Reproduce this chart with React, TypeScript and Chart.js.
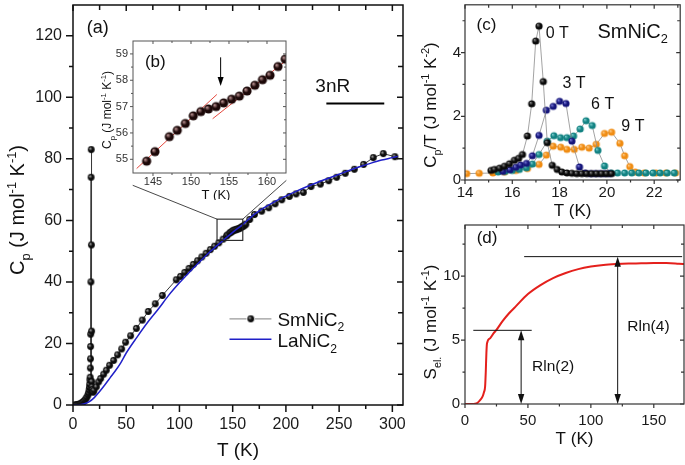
import React, { useEffect, useRef } from 'react';
import { Chart, registerables } from 'chart.js';

Chart.register(...registerables);

const FONT = '"Liberation Sans", Arial, Helvetica, sans-serif';
const INK = '#111111';

// ---------------- (a) main panel: Cp(T) ----------------
const smT = [2, 3, 4, 5, 6, 7, 8, 9, 10, 11, 12, 13, 14, 14.6, 15.1, 15.46, 15.67, 15.88, 16.09, 16.27, 16.43, 16.55, 16.6, 16.8, 16.99, 17.13, 17.31, 17.48, 17.69, 17.9, 18.1, 18.5, 19.0, 19.7, 21.9, 24.1, 26.0, 28.8, 31.3, 34.4, 38.2, 41.9, 45.7, 49.4, 54.1, 59.5, 65.1, 70.7, 77.3, 83.9, 97.0, 101, 105, 109, 113, 117, 121, 125, 129, 133, 137, 141, 144.17, 145.26, 147.15, 148.2, 149.26, 150.3, 151.3, 152.3, 153.3, 154.3, 155.35, 156.36, 157.37, 158.4, 159.4, 160.4, 161.45, 162.4, 166, 170.5, 177.3, 183.9, 189.9, 196.1, 203.3, 209.6, 216.4, 223.6, 232.4, 240.2, 247.7, 255.8, 264.3, 273.0, 282.1, 291.5, 302.4];
const smCp = [0.02, 0.05, 0.1, 0.17, 0.27, 0.4, 0.6, 0.85, 1.15, 1.5, 1.95, 2.5, 3.2, 3.9, 4.8, 5.7, 6.7, 8.1, 9.0, 12, 15, 19, 23, 40, 74, 83, 52, 24, 7.6, 5.9, 5.0, 4.3, 4.2, 4.8, 5.9, 7.5, 8.6, 10.0, 11.3, 12.9, 14.5, 16.3, 18.2, 20.4, 22.5, 24.9, 27.6, 30.4, 32.9, 35.6, 40.7, 41.8, 43.1, 44.4, 45.7, 46.9, 48.1, 49.3, 50.5, 51.6, 52.7, 53.9, 54.93, 55.29, 55.86, 56.1, 56.36, 56.65, 56.81, 56.91, 57.0, 57.14, 57.28, 57.4, 57.59, 57.81, 58.02, 58.19, 58.52, 58.8, 60.3, 61.9, 63.0, 64.1, 65.4, 66.7, 67.8, 68.6, 69.1, 71.0, 71.8, 72.9, 74.0, 75.3, 76.6, 78.2, 80.4, 81.7, 80.7];
const laT = [0, 5, 10, 15, 20, 25, 30, 35, 40, 45, 50, 60, 70, 80, 90, 100, 110, 120, 130, 140, 150, 160, 170, 180, 190, 200, 210, 220, 230, 240, 250, 260, 270, 280, 290, 300, 305];
const laCp = [0, 0.03, 0.3, 1.0, 2.4, 4.4, 6.6, 8.9, 11.2, 13.8, 16.9, 22.0, 26.8, 31.1, 35.7, 39.7, 43.4, 46.9, 50.2, 53.2, 56.1, 58.8, 61.9, 64.2, 66.2, 67.9, 69.5, 71.0, 72.4, 73.7, 75.0, 76.3, 77.5, 78.6, 79.6, 80.4, 80.8];
const aXTicks = [0, 50, 100, 150, 200, 250, 300];
const aXMinor = [25, 75, 125, 175, 225, 275];
const aYTicks = [0, 20, 40, 60, 80, 100, 120];
const aYMinor = [10, 30, 50, 70, 90, 110];
const nrLineT = [238, 292.4];
const NR_CP = 98;
const zoomBoxT = [135.3, 159.5];
const zoomBoxCp = [53.5, 60.4];

// ---------------- (b) inset ----------------
const bT = [144.17, 145.26, 147.15, 148.2, 149.26, 150.3, 151.3, 152.3, 153.3, 154.3, 155.35, 156.36, 157.37, 158.4, 159.4, 160.4, 161.45, 162.4];
const bCp = [54.93, 55.29, 55.86, 56.1, 56.36, 56.65, 56.81, 56.91, 57.0, 57.14, 57.28, 57.4, 57.59, 57.81, 58.02, 58.19, 58.52, 58.8];
const fitAT = [142.85, 153.4];
const fitACp = [54.65, 57.46];
const fitBT = [152.85, 163.4];
const fitBCp = [56.54, 58.95];
const bXTicks = [145, 150, 155, 160];
const bXMinor = [147.5, 152.5, 157.5];
const bYTicks = [55, 56, 57, 58, 59];
const bYMinor = [55.5, 56.5, 57.5, 58.5];
const arrowBT = 153.9;
const arrowBCp = [58.87, 57.78];

// ---------------- (c) Cp/T in fields ----------------
const c0T = [15.1, 15.25, 15.46, 15.67, 15.88, 16.09, 16.27, 16.43, 16.64, 16.82, 16.99, 17.13, 17.31, 17.48, 17.69, 17.9, 18.1, 18.31, 18.52, 18.73, 18.94, 19.15, 19.36, 19.57, 19.78, 19.99, 20.2];
const c0 = [0.3, 0.33, 0.37, 0.43, 0.51, 0.62, 0.68, 0.8, 1.38, 2.39, 4.36, 4.83, 3.09, 1.17, 0.46, 0.33, 0.25, 0.22, 0.21, 0.2, 0.2, 0.2, 0.2, 0.2, 0.2, 0.2, 0.2];
const c3T = [15.6, 15.9, 16.15, 16.35, 16.6, 16.85, 17.13, 17.44, 17.73, 18.0, 18.27, 18.52, 18.84, 19.08, 19.3, 19.5, 19.7, 19.9, 20.1];
const c3 = [0.27, 0.32, 0.4, 0.47, 0.52, 0.76, 1.4, 2.19, 2.31, 2.47, 2.4, 1.22, 0.41, 0.22, 0.2, 0.2, 0.2, 0.2, 0.2];
const c6T = [15.4, 15.7, 16.0, 16.3, 16.6, 16.85, 17.13, 17.48, 17.76, 18.04, 18.31, 18.59, 18.87, 19.12, 19.38, 19.62, 19.9, 20.18, 20.45, 20.75, 21.05, 21.35, 21.65, 21.95, 22.25, 22.55, 22.85];
const c6 = [0.25, 0.27, 0.3, 0.33, 0.38, 0.5, 0.8, 1.22, 1.39, 1.33, 1.33, 1.38, 1.6, 1.86, 1.71, 0.93, 0.44, 0.22, 0.22, 0.22, 0.22, 0.22, 0.22, 0.22, 0.22, 0.22, 0.22];
const c9T = [14.07, 14.6, 15.18, 15.67, 16.15, 16.64, 17.13, 17.44, 17.73, 18.05, 18.31, 18.62, 18.94, 19.25, 19.55, 19.9, 20.2, 20.55, 20.75, 20.97, 21.2, 21.58, 22.07, 22.49, 22.9];
const c9 = [0.2, 0.21, 0.22, 0.25, 0.3, 0.36, 0.49, 0.78, 1.06, 1.03, 0.96, 0.96, 1.03, 1.0, 1.12, 1.46, 1.5, 1.15, 0.76, 0.42, 0.25, 0.22, 0.22, 0.22, 0.22];
const cXTicks = [14, 16, 18, 20, 22];
const cXMinor = [15, 17, 19, 21, 23];
const cYTicks = [0, 2, 4];
const cYMinor = [1, 3, 5];

// ---------------- (d) electronic entropy ----------------
const dT = [0, 5, 8, 10, 12, 14, 15, 16, 16.5, 17, 17.5, 20, 22.5, 25, 30, 35, 40, 50, 60, 70, 80, 90, 100, 110, 120, 130, 140, 150, 160, 170, 175];
const dS = [0, 0, 0.02, 0.1, 0.3, 0.6, 0.9, 1.4, 2.5, 4.0, 4.75, 5.15, 5.5, 5.8, 6.5, 7.1, 7.6, 8.6, 9.3, 9.85, 10.25, 10.55, 10.75, 10.88, 10.95, 10.99, 11.0, 11.02, 11.02, 10.97, 10.94];
const dXTicks = [0, 50, 100, 150];
const dXMinor = [25, 75, 125];
const dYTicks = [0, 5, 10];
const dYMinor = [2.5, 7.5, 12.5];
const RLN2 = 8.314 * Math.log(2);
const RLN4 = 8.314 * Math.log(4);
const rln2LineT = [6.6, 53];
const rln4LineT = [47, 172.5];
const rln2ArrowT = 44.6;
const rln4ArrowT = 121.3;

// ---------------- helpers ----------------
type Seg = [string, number]; // 0 normal, 1 subscript, 2 superscript

function drawRich(ctx: CanvasRenderingContext2D, segs: Seg[], x: number, y: number, size: number, align: 'center' | 'left' = 'center', rotate = false, color = INK) {
  ctx.save();
  ctx.translate(x, y);
  if (rotate) ctx.rotate(-Math.PI / 2);
  const fs = (m: number) => (m ? size * 0.64 : size);
  let w = 0;
  for (const [t, m] of segs) {
    ctx.font = `${fs(m)}px ${FONT}`;
    w += ctx.measureText(t).width;
  }
  let cx = align === 'center' ? -w / 2 : 0;
  const base = size * 0.358;
  ctx.fillStyle = color;
  ctx.textAlign = 'left';
  ctx.textBaseline = 'alphabetic';
  for (const [t, m] of segs) {
    ctx.font = `${fs(m)}px ${FONT}`;
    const dy = m === 1 ? size * 0.27 : m === 2 ? -size * 0.4 : 0;
    ctx.fillText(t, cx, base + dy);
    cx += ctx.measureText(t).width;
  }
  ctx.restore();
}

type FrameSpec = { xMaj: number[]; xMin: number[]; yMaj: number[]; yMin: number[]; oMaj: number; oMin: number; iMaj: number; iMin: number; lw: number; color: string };

function drawFrame(chart: any, f: FrameSpec) {
  const { ctx, chartArea: a } = chart;
  const sx = chart.scales.x;
  const sy = chart.scales.y;
  ctx.save();
  ctx.strokeStyle = f.color;
  ctx.lineWidth = f.lw;
  ctx.beginPath();
  const vx = (v: number, o: number, i: number) => {
    const p = sx.getPixelForValue(v);
    ctx.moveTo(p, a.bottom); ctx.lineTo(p, a.bottom + o);
    ctx.moveTo(p, a.top); ctx.lineTo(p, a.top + i);
  };
  const vy = (v: number, o: number, i: number) => {
    const p = sy.getPixelForValue(v);
    ctx.moveTo(a.left, p); ctx.lineTo(a.left - o, p);
    ctx.moveTo(a.right, p); ctx.lineTo(a.right - i, p);
  };
  f.xMaj.forEach((v) => vx(v, f.oMaj, f.iMaj));
  f.xMin.forEach((v) => vx(v, f.oMin, f.iMin));
  f.yMaj.forEach((v) => vy(v, f.oMaj, f.iMaj));
  f.yMin.forEach((v) => vy(v, f.oMin, f.iMin));
  ctx.stroke();
  ctx.strokeRect(a.left, a.top, a.right - a.left, a.bottom - a.top);
  ctx.restore();
}

function linAxis(min: number, max: number, majors: number[], fixed: number, horizontal: boolean, size: number, pad: number, color = '#1a1a1a') {
  return {
    type: 'linear',
    min,
    max,
    position: horizontal ? 'bottom' : 'left',
    grid: { display: false, drawTicks: false },
    border: { display: false },
    title: { display: false },
    ticks: { font: { family: FONT, size }, color, padding: pad, autoSkip: false, maxRotation: 0, minRotation: 0, callback: (v: number) => String(v) },
    afterBuildTicks: (s: any) => { s.ticks = majors.map((v) => ({ value: v })); },
    afterFit: (s: any) => {
      if (horizontal) s.height = fixed; else s.width = fixed;
      s.paddingTop = 0; s.paddingBottom = 0; s.paddingLeft = 0; s.paddingRight = 0;
    },
  };
}

function makeBall(r: number, base: string, hi: string) {
  const c = document.createElement('canvas');
  const s = Math.ceil(r * 2 + 2);
  c.width = s; c.height = s;
  const g = c.getContext('2d')!;
  const cx = s / 2, cy = s / 2;
  const grad = g.createRadialGradient(cx - r * 0.4, cy - r * 0.4, 0, cx, cy, r);
  grad.addColorStop(0, hi);
  grad.addColorStop(0.55, base);
  grad.addColorStop(1, base);
  g.fillStyle = grad;
  g.beginPath(); g.arc(cx, cy, r, 0, Math.PI * 2); g.fill();
  return c;
}

function arrowHead(ctx: CanvasRenderingContext2D, x: number, y: number, dir: number, len: number, hw: number) {
  ctx.beginPath();
  ctx.moveTo(x, y);
  ctx.lineTo(x - hw, y - dir * len);
  ctx.lineTo(x + hw, y - dir * len);
  ctx.closePath();
  ctx.fill();
}

const pts = (xs: number[], ys: number[]) => xs.map((x, i) => ({ x, y: ys[i] }));

const baseOpts = (padding: any, x: any, y: any) => ({
  responsive: false,
  maintainAspectRatio: false,
  animation: false,
  devicePixelRatio: 1,
  events: [],
  layout: { padding },
  plugins: { legend: { display: false }, tooltip: { enabled: false } },
  scales: { x, y },
});

const segCp: Seg[] = [['C', 0], ['p', 1], [' (J mol', 0], ['-1', 2], [' K', 0], ['-1', 2], [')', 0]];

export default function App() {
  const ra = useRef<HTMLCanvasElement>(null);
  const rb = useRef<HTMLCanvasElement>(null);
  const rc = useRef<HTMLCanvasElement>(null);
  const rd = useRef<HTMLCanvasElement>(null);

  useEffect(() => {
    document.body.style.margin = '0';
    const ballK = makeBall(3.4, '#0c0c0c', '#b8b8b8');
    const ballB = makeBall(4.6, '#1c0808', '#d4a8a8');
    const cBalls = [
      makeBall(3.6, '#0a0a0a', '#9a9a9a'),
      makeBall(3.6, '#15157a', '#8a8ae8'),
      makeBall(3.6, '#128282', '#8ad8d8'),
      makeBall(3.6, '#f08c12', '#ffd49a'),
    ];

    // ----- (a) -----
    const frameA: FrameSpec = { xMaj: aXTicks, xMin: aXMinor, yMaj: aYTicks, yMin: aYMinor, oMaj: 7, oMin: 4, iMaj: 6, iMin: 5, lw: 1.5, color: '#111' };
    const plugA = {
      id: 'plugA',
      afterDatasetsDraw(chart: any) {
        drawFrame(chart, frameA);
        const ctx: CanvasRenderingContext2D = chart.ctx;
        const X = chart.scales.x, Y = chart.scales.y;
        const px = (v: number) => X.getPixelForValue(v);
        const py = (v: number) => Y.getPixelForValue(v);
        const a = chart.chartArea;
        ctx.save();
        // zoom box + connectors
        ctx.strokeStyle = '#222'; ctx.lineWidth = 1.1;
        ctx.strokeRect(px(zoomBoxT[0]), py(zoomBoxCp[1]), px(zoomBoxT[1]) - px(zoomBoxT[0]), py(zoomBoxCp[0]) - py(zoomBoxCp[1]));
        ctx.lineWidth = 0.9; ctx.strokeStyle = '#333';
        ctx.beginPath();
        ctx.moveTo(px(zoomBoxT[0]), py(zoomBoxCp[1])); ctx.lineTo(px(56.1), py(71.4));
        ctx.moveTo(px(zoomBoxT[1]), py(zoomBoxCp[1])); ctx.lineTo(px(200.4), py(73));
        ctx.stroke();
        // 3nR
        ctx.strokeStyle = '#000'; ctx.lineWidth = 2;
        ctx.beginPath(); ctx.moveTo(px(nrLineT[0]), py(NR_CP)); ctx.lineTo(px(nrLineT[1]), py(NR_CP)); ctx.stroke();
        drawRich(ctx, [['3nR', 0]], px(244), py(103.9), 19);
        drawRich(ctx, [['(a)', 0]], px(23.2), py(122.9), 18);
        // legend
        const ly1 = py(28), ly2 = py(21.4);
        ctx.strokeStyle = '#9a9a9a'; ctx.lineWidth = 1.3;
        ctx.beginPath();
        ctx.moveTo(px(147), ly1); ctx.lineTo(px(163), ly1);
        ctx.moveTo(px(171), ly1); ctx.lineTo(px(186.4), ly1);
        ctx.stroke();
        ctx.drawImage(ballK, px(167) - ballK.width / 2, ly1 - ballK.height / 2);
        ctx.strokeStyle = '#2020c8'; ctx.lineWidth = 1.5;
        ctx.beginPath(); ctx.moveTo(px(147), ly2); ctx.lineTo(px(186.4), ly2); ctx.stroke();
        drawRich(ctx, [['SmNiC', 0], ['2', 1]], px(192), ly1, 19, 'left');
        drawRich(ctx, [['LaNiC', 0], ['2', 1]], px(192), py(20.9), 19, 'left');
        // axis titles
        drawRich(ctx, [['T (K)', 0]], (a.left + a.right) / 2, 449, 19);
        drawRich(ctx, segCp, 17, 210, 20, 'center', true);
        ctx.restore();
      },
    };
    const chA = new Chart(ra.current!, {
      type: 'line',
      data: {
        datasets: [
          { data: pts(laT, laCp), borderColor: '#2020c8', borderWidth: 1.5, pointRadius: 0, cubicInterpolationMode: 'monotone' },
          { data: pts(smT, smCp), borderColor: '#3a3a3a', borderWidth: 1, pointStyle: ballK, pointRadius: 3.4, tension: 0 },
        ],
      },
      options: baseOpts({ left: 0, top: 1, right: 7, bottom: 0 }, linAxis(0, 310, aXTicks, 60, true, 16, 10), linAxis(0, 130, aYTicks, 73, false, 16, 11)) as any,
      plugins: [plugA],
    } as any);

    // ----- (b) inset -----
    const frameB: FrameSpec = { xMaj: bXTicks, xMin: bXMinor, yMaj: bYTicks, yMin: bYMinor, oMaj: 3, oMin: 2, iMaj: 3, iMin: 2, lw: 1, color: '#555' };
    const plugB = {
      id: 'plugB',
      beforeDatasetsDraw(chart: any) {
        const a = chart.chartArea;
        chart.ctx.save();
        chart.ctx.fillStyle = '#fff';
        chart.ctx.fillRect(a.left, a.top, a.right - a.left, a.bottom - a.top);
        chart.ctx.restore();
      },
      afterDatasetsDraw(chart: any) {
        drawFrame(chart, frameB);
        const ctx: CanvasRenderingContext2D = chart.ctx;
        const X = chart.scales.x, Y = chart.scales.y;
        ctx.save();
        const ax = X.getPixelForValue(arrowBT);
        const y0 = Y.getPixelForValue(arrowBCp[0]);
        const y1 = Y.getPixelForValue(arrowBCp[1]);
        ctx.strokeStyle = '#000'; ctx.fillStyle = '#000'; ctx.lineWidth = 1;
        ctx.beginPath(); ctx.moveTo(ax, y0); ctx.lineTo(ax, y1 - 6); ctx.stroke();
        arrowHead(ctx, ax, y1, 1, 9, 3);
        drawRich(ctx, [['(b)', 0]], X.getPixelForValue(145.3), Y.getPixelForValue(58.73), 17);
        drawRich(ctx, [['T (K)', 0]], 121, 164, 13);
        drawRich(ctx, segCp, 12, 80, 12, 'center', true);
        ctx.restore();
      },
    };
    const chB = new Chart(rb.current!, {
      type: 'line',
      data: {
        datasets: [
          { data: pts(bT, bCp), showLine: false, pointStyle: ballB, pointRadius: 4.6 },
          { data: pts(fitAT, fitACp), borderColor: '#e5483e', borderWidth: 1, pointRadius: 0 },
          { data: pts(fitBT, fitBCp), borderColor: '#e5483e', borderWidth: 1, pointRadius: 0 },
        ],
      },
      options: baseOpts({ left: 0, top: 11, right: 9, bottom: 0 }, linAxis(142.37, 162.5, bXTicks, 27, true, 11, 2, '#333'), linAxis(54.48, 59.49, bYTicks, 38, false, 11, 5, '#333')) as any,
      plugins: [plugB],
    } as any);

    // ----- (c) -----
    const frameC: FrameSpec = { xMaj: cXTicks, xMin: cXMinor, yMaj: cYTicks, yMin: cYMinor, oMaj: 4, oMin: 2.5, iMaj: 4, iMin: 3, lw: 1.2, color: '#333' };
    const plugC = {
      id: 'plugC',
      afterDatasetsDraw(chart: any) {
        drawFrame(chart, frameC);
        const ctx: CanvasRenderingContext2D = chart.ctx;
        const X = chart.scales.x, Y = chart.scales.y;
        const a = chart.chartArea;
        const P = (t: number, v: number): [number, number] => [X.getPixelForValue(t), Y.getPixelForValue(v)];
        ctx.save();
        let p = P(14.91, 4.89); drawRich(ctx, [['(c)', 0]], p[0], p[1], 17);
        p = P(17.9, 4.65); drawRich(ctx, [['0 T', 0]], p[0], p[1], 16);
        p = P(18.61, 3.08); drawRich(ctx, [['3 T', 0]], p[0], p[1], 16);
        p = P(19.82, 2.4); drawRich(ctx, [['6 T', 0]], p[0], p[1], 16);
        p = P(21.1, 1.72); drawRich(ctx, [['9 T', 0]], p[0], p[1], 16);
        p = P(19.6, 4.68); drawRich(ctx, [['SmNiC', 0], ['2', 1]], p[0], p[1], 20, 'left');
        drawRich(ctx, [['T (K)', 0]], (a.left + a.right) / 2, 210, 17);
        drawRich(ctx, [['C', 0], ['p', 1], ['/T (J mol', 0], ['-1', 2], [' K', 0], ['-2', 2], [')', 0]], 20, 105, 17, 'center', true);
        ctx.restore();
      },
    };
    const lineC = { borderColor: '#8c8c8c', borderWidth: 0.8, tension: 0 };
    const chC = new Chart(rc.current!, {
      type: 'line',
      data: {
        datasets: [
          { ...lineC, data: pts(c0T, c0), pointStyle: cBalls[0], pointRadius: 3.6 },
          { ...lineC, data: pts(c3T, c3), pointStyle: cBalls[1], pointRadius: 3.6 },
          { ...lineC, data: pts(c6T, c6), pointStyle: cBalls[2], pointRadius: 3.6 },
          { ...lineC, data: pts(c9T, c9), pointStyle: cBalls[3], pointRadius: 3.6 },
        ],
      },
      options: baseOpts({ left: 0, top: 1, right: 1, bottom: 0 }, linAxis(14, 23.1, cXTicks, 42, true, 15, 4), linAxis(0, 5.5, cYTicks, 55, false, 15, 4)) as any,
      plugins: [plugC],
    } as any);

    // ----- (d) -----
    const frameD: FrameSpec = { xMaj: dXTicks, xMin: dXMinor, yMaj: dYTicks, yMin: dYMinor, oMaj: 4, oMin: 2.5, iMaj: 4, iMin: 3, lw: 1.2, color: '#333' };
    const plugD = {
      id: 'plugD',
      afterDatasetsDraw(chart: any) {
        drawFrame(chart, frameD);
        const ctx: CanvasRenderingContext2D = chart.ctx;
        const X = chart.scales.x, Y = chart.scales.y;
        const a = chart.chartArea;
        const px = (v: number) => X.getPixelForValue(v);
        const py = (v: number) => Y.getPixelForValue(v);
        ctx.save();
        ctx.strokeStyle = '#111'; ctx.fillStyle = '#111'; ctx.lineWidth = 1;
        ctx.beginPath();
        ctx.moveTo(px(rln2LineT[0]), py(RLN2)); ctx.lineTo(px(rln2LineT[1]), py(RLN2));
        ctx.moveTo(px(rln4LineT[0]), py(RLN4)); ctx.lineTo(px(rln4LineT[1]), py(RLN4));
        const arrows: [number, number][] = [[rln2ArrowT, RLN2], [rln4ArrowT, RLN4]];
        arrows.forEach(([t, s]) => { ctx.moveTo(px(t), py(0) - 5); ctx.lineTo(px(t), py(s) + 5); });
        ctx.stroke();
        arrows.forEach(([t, s]) => {
          arrowHead(ctx, px(t), py(0), 1, 10, 3.2);
          arrowHead(ctx, px(t), py(s), -1, 10, 3.2);
        });
        drawRich(ctx, [['Rln(2)', 0]], px(53.3), py(3.05), 15.5, 'left');
        drawRich(ctx, [['Rln(4)', 0]], px(129), py(6.18), 15.5, 'left');
        drawRich(ctx, [['(d)', 0]], px(17.5), py(13.06), 17);
        drawRich(ctx, [['T (K)', 0]], (a.left + a.right) / 2, 216, 17);
        drawRich(ctx, [['S', 0], ['el.', 1], [' (J mol', 0], ['-1', 2], [' K', 0], ['-1', 2], [')', 0]], 20, 100, 17, 'center', true);
        ctx.restore();
      },
    };
    const chD = new Chart(rd.current!, {
      type: 'line',
      data: {
        datasets: [
          { data: pts(dT, dS), borderColor: '#e4201c', borderWidth: 2, pointRadius: 0, cubicInterpolationMode: 'monotone' },
        ],
      },
      options: baseOpts({ left: 0, top: 3, right: 1, bottom: 0 }, linAxis(0, 174, dXTicks, 61, true, 15, 8), linAxis(0, 14, dYTicks, 55, false, 15, 5)) as any,
      plugins: [plugD],
    } as any);

    return () => { chA.destroy(); chB.destroy(); chC.destroy(); chD.destroy(); };
  }, []);

  return (
    <div style={{ position: 'relative', width: 685, height: 465, background: '#fff', overflow: 'hidden' }}>
      <canvas ref={ra} width={410} height={465} style={{ position: 'absolute', left: 0, top: 0 }} />
      <canvas ref={rb} width={200} height={170} style={{ position: 'absolute', left: 95, top: 30 }} />
      <canvas ref={rc} width={275} height={222} style={{ position: 'absolute', left: 410, top: 0 }} />
      <canvas ref={rd} width={275} height={243} style={{ position: 'absolute', left: 410, top: 222 }} />
    </div>
  );
}
